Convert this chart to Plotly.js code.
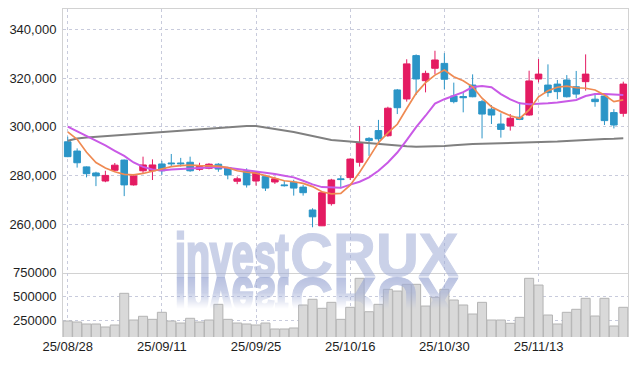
<!DOCTYPE html>
<html>
<head>
<meta charset="utf-8">
<script src="https://cdn.plot.ly/plotly-3.0.1.min.js"></script>
<style>
html,body{margin:0;padding:0;background:#fff;}
#wrap{position:relative;width:637px;height:366px;overflow:hidden;}
#chart{width:637px;height:366px;}
.wm{position:absolute;top:232.9px;height:44px;font-family:"Liberation Sans",Arial,sans-serif;font-weight:bold;font-size:61px;line-height:44px;color:rgb(160,172,214);opacity:0.55;white-space:nowrap;pointer-events:none;transform-origin:0 44px;}
.a{left:175px;-webkit-text-stroke:3px rgb(160,172,214);}
.b{left:290px;-webkit-text-stroke:1px rgb(160,172,214);}
.a.main{transform:scaleX(0.645);}
.b.main{transform:scaleX(0.975);}
.a.refl{transform:scale(0.645,-1);}
.b.refl{transform:scale(0.975,-1);}
.refl{opacity:0.75;-webkit-mask-image:linear-gradient(to top,rgba(0,0,0,1) 0%,rgba(0,0,0,0.75) 35%,rgba(0,0,0,0) 72%);mask-image:linear-gradient(to top,rgba(0,0,0,1) 0%,rgba(0,0,0,0.75) 35%,rgba(0,0,0,0) 72%);}
</style>
</head>
<body>
<div id="wrap">
<div id="chart"></div>
<div class="wm a main">invest</div>
<div class="wm b main">CRUX</div>
<div class="wm a refl">invest</div>
<div class="wm b refl">CRUX</div>
</div>
<script>
const dates = ['25/08/28','25/08/29','25/09/01','25/09/02','25/09/03','25/09/04','25/09/05','25/09/08','25/09/09','25/09/10',
'25/09/11','25/09/12','25/09/15','25/09/16','25/09/17','25/09/18','25/09/19','25/09/22','25/09/23','25/09/24',
'25/09/25','25/09/26','25/09/29','25/09/30','25/10/01','25/10/02','25/10/10','25/10/13','25/10/14','25/10/15',
'25/10/16','25/10/17','25/10/20','25/10/21','25/10/22','25/10/23','25/10/24','25/10/27','25/10/28','25/10/29',
'25/10/30','25/10/31','25/11/03','25/11/04','25/11/05','25/11/06','25/11/07','25/11/10','25/11/11','25/11/12',
'25/11/13','25/11/14','25/11/17','25/11/18','25/11/19','25/11/20','25/11/21','25/11/24','25/11/25','25/11/26'];

const openP  = [293800,290000,283500,281000,277700,282100,286300,276100,281900,281900,
284700,285100,285100,285400,282500,282900,284600,283200,277600,281900,
277700,279500,277300,276100,277200,275200,265800,259300,268400,278600,
279100,285400,295200,298400,296300,315100,311400,329200,318900,324000,
326000,312600,312400,317100,310300,307200,301100,300300,303900,304800,
319600,317100,317500,319200,316400,318500,311300,312600,305800,305500];
const highP  = [295900,291100,283700,281500,281900,285100,286500,280600,287700,286600,
286000,288800,287200,287700,285200,285000,285000,283500,279500,282900,
281500,280200,279500,277700,278200,276100,266500,273500,278600,279800,
287000,300300,295700,302800,308200,315500,327700,329700,323000,331200,
330200,318100,314000,321500,311000,308900,305500,305200,310000,323000,
327800,325600,319200,321200,322900,329700,313700,313000,307200,318500];
const lowP   = [287500,283200,279200,275600,277200,281500,271500,275800,280600,278100,
280200,283600,283600,281500,281900,282500,281500,278400,276400,275000,
275800,273600,276500,275400,271700,271700,258700,259200,267600,274700,
278100,283600,288000,293800,295900,305200,310300,313000,314100,321500,
315400,309600,305900,312100,295200,301100,295500,298400,302700,304500,
318200,312300,311300,312000,311700,314800,308200,300700,299300,304100];
const closeP = [287700,285200,280700,279800,280000,284200,276100,279800,284300,284300,
281900,284800,284800,281900,283700,284600,282600,280200,278600,276100,
281100,274800,278600,275800,274800,272900,263000,272900,278100,278300,
286700,293400,294300,295000,307600,307800,325800,319600,321900,327400,
319500,310300,311900,312300,305200,304800,298900,303500,303000,318800,
321600,314000,314400,312300,313400,321600,310300,302500,300700,317500];

const ma5  = [297900,294800,289500,285300,283000,281500,280400,280200,280800,281800,
282600,283600,284000,284200,284000,284000,283800,283200,281900,281300,
280900,279900,278800,277800,277400,276700,275400,273300,272400,272600,
276000,281300,287300,293500,297500,301000,307500,313700,318100,321200,
323300,320500,318900,316400,311700,308200,306200,304500,303400,306900,
312300,314800,316200,316700,316000,315800,315100,313000,310300,311000];
const ma20 = [300000,298100,295900,294200,292300,290100,288000,285300,283500,282400,
282000,282400,282600,282900,283100,283300,283500,283100,282600,282200,
281700,281300,280600,279900,279200,277800,276300,275200,274900,274900,
276200,277400,279200,281900,285300,289400,294500,299800,304500,309500,
311300,312700,314200,316300,316700,316200,313400,311250,309600,309200,
309300,309600,309900,310300,311000,312600,313400,313400,313200,313000];
const ma60 = [294250,295150,295560,295850,296100,296340,296590,296880,297210,297540,
297820,298110,298360,298650,298930,299180,299470,299880,300160,300290,
300290,299750,299060,298440,297820,297000,296180,295360,294540,294250,
293920,293590,293310,292890,292480,292070,291950,291790,291790,291950,
292070,292360,292770,292890,293020,293100,293180,293310,293390,293510,
293590,293720,293920,294130,294410,294660,294830,294950,295030,295240];

const volume = [239500,229000,208000,208000,176300,197400,531000,250000,289000,257000,
331000,239500,218400,268000,229000,250000,415000,257000,218400,208000,
197400,218400,155300,155300,165800,408000,468000,373000,436000,257000,
383700,689000,337000,415000,573000,555000,625800,625800,397000,489000,
573000,460500,408000,313000,436000,250000,250000,215000,278000,689000,
618000,302600,208000,331000,362600,478400,292000,478400,187000,383700];

const priceTicks  = [260000,280000,300000,320000,340000];
const volumeTicks = [250000,500000,750000];
const dateTicks   = ['25/08/28','25/09/11','25/09/25','25/10/16','25/10/30','25/11/13'];

const upColor = '#e41b62';
const downColor = '#2b95c7';
const gridColor = '#c8cbdc';
const borderColor = '#d2d2d2';
const tickFont = {family:'"Liberation Sans", Arial, sans-serif', size:13, color:'#1e1e1e'};

const traces = [
  {type:'scatter', mode:'lines', x:dates, y:ma60, xaxis:'x', yaxis:'y', line:{color:'#808080', width:2}, hoverinfo:'skip'},
  {type:'scatter', mode:'lines', x:dates, y:ma20, xaxis:'x', yaxis:'y', line:{color:'#c95ae6', width:2}, hoverinfo:'skip'},
  {type:'scatter', mode:'lines', x:dates, y:ma5, xaxis:'x', yaxis:'y', line:{color:'#ef8a52', width:1.7}, hoverinfo:'skip'},
  {type:'candlestick', x:dates, open:openP, high:highP, low:lowP, close:closeP, xaxis:'x', yaxis:'y',
    increasing:{line:{color:upColor, width:1}, fillcolor:upColor},
    decreasing:{line:{color:downColor, width:1}, fillcolor:downColor},
    whiskerwidth:0, hoverinfo:'skip'},
  {type:'bar', x:dates, y:volume, xaxis:'x2', yaxis:'y2',
    marker:{color:'#d9d9d9', line:{color:'#b4b4b4', width:1}}, hoverinfo:'skip'}
];

const layout = {
  width:637, height:366,
  margin:{l:63, r:9, t:9, b:29, pad:0},
  paper_bgcolor:'#ffffff', plot_bgcolor:'#ffffff',
  showlegend:false, hovermode:false, dragmode:false,
  font:tickFont,
  boxgap:0.3, boxgroupgap:0, bargap:0.04,
  xaxis:{type:'category', categoryorder:'array', categoryarray:dates, anchor:'y', domain:[0,1],
    range:[-0.5,59.5], tickvals:dateTicks, showticklabels:false, ticks:'',
    showgrid:true, gridcolor:gridColor, griddash:'dot', gridwidth:1,
    showline:true, linecolor:borderColor, linewidth:1, mirror:true,
    rangeslider:{visible:false}, fixedrange:true},
  xaxis2:{type:'category', categoryorder:'array', categoryarray:dates, anchor:'y2', domain:[0,1],
    range:[-0.5,59.5], tickvals:dateTicks, ticks:'', tickfont:tickFont,
    showgrid:true, gridcolor:gridColor, griddash:'dot', gridwidth:1,
    showline:false, fixedrange:true},
  yaxis:{domain:[0.1966,1], range:[240120,348340], tickvals:priceTicks, tickformat:',d',
    ticks:'outside', ticklen:3, tickcolor:'rgba(0,0,0,0)', tickfont:tickFont,
    showgrid:true, gridcolor:gridColor, griddash:'dot', gridwidth:1, zeroline:false,
    showline:true, linecolor:borderColor, linewidth:1, mirror:true, fixedrange:true},
  yaxis2:{domain:[0,0.1966], range:[71000,750000], tickvals:volumeTicks, tickformat:'d',
    ticks:'outside', ticklen:3, tickcolor:'rgba(0,0,0,0)', tickfont:tickFont,
    showgrid:true, gridcolor:gridColor, griddash:'dot', gridwidth:1, zeroline:false,
    showline:true, linecolor:borderColor, linewidth:1, mirror:true, fixedrange:true}
};

Plotly.newPlot('chart', traces, layout, {displayModeBar:false, staticPlot:true});
</script>
</body>
</html>
